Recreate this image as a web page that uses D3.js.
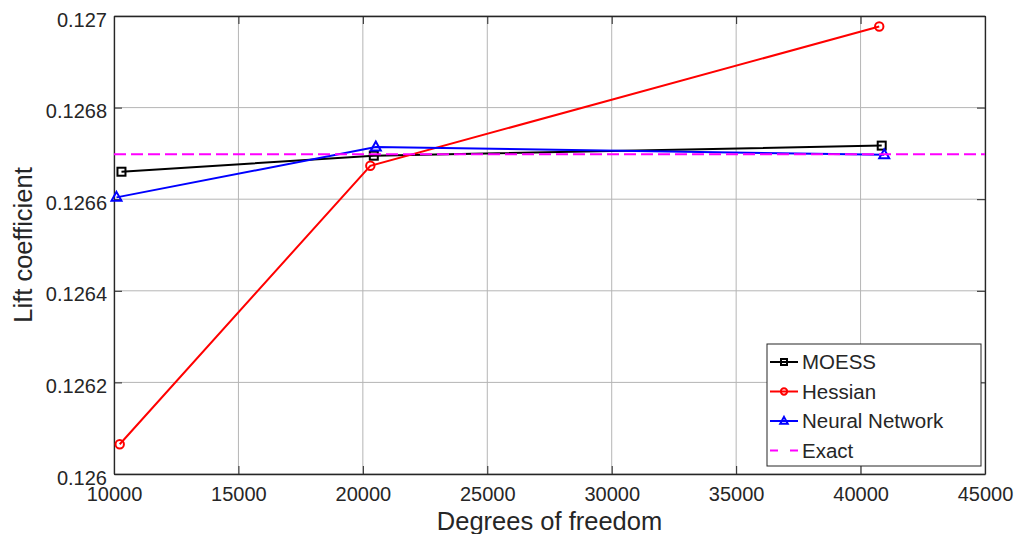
<!DOCTYPE html>
<html>
<head>
<meta charset="utf-8">
<script src="https://cdn.jsdelivr.net/npm/d3@7"></script>
<style>
  body { margin: 0; background: #fff; }
  svg text { font-family: "Liberation Sans", Arial, sans-serif; fill: #262626; }
</style>
</head>
<body>
<script>
// values
var dofMoess = [10300, 20440, 40850];
var liftMoess = [0.126660, 0.126695, 0.126717];
var dofHessian = [10230, 20300, 40750];
var liftHessian = [0.126065, 0.126673, 0.126977];
var dofNeural = [10100, 20520, 40950];
var liftNeural = [0.126604, 0.126714, 0.126697];
var liftExact = 0.126698;

var xTicks = [10000, 15000, 20000, 25000, 30000, 35000, 40000, 45000];
var yTicks = [0.126, 0.1262, 0.1264, 0.1266, 0.1268, 0.127];
var seriesNames = ["MOESS", "Hessian", "Neural Network", "Exact"];

var w = 1015, h = 534;
var margin = {left: 114, right: 30, top: 16, bottom: 60};

var svg = d3.select("body").append("svg")
    .attr("width", w)
    .attr("height", h);

var x = d3.scaleLinear().domain([10000, 45000]).range([margin.left, w - margin.right]);
var y = d3.scaleLinear().domain([0.126, 0.127]).range([h - margin.bottom, margin.top]);

// grid
svg.append("g").selectAll("line.vg")
    .data(xTicks)
    .enter().append("line")
    .attr("x1", function(d) { return x(d); })
    .attr("x2", function(d) { return x(d); })
    .attr("y1", y(0.126)).attr("y2", y(0.127))
    .attr("stroke", "#b5b5b5").attr("stroke-width", 1);
svg.append("g").selectAll("line.hg")
    .data(yTicks)
    .enter().append("line")
    .attr("y1", function(d) { return y(d); })
    .attr("y2", function(d) { return y(d); })
    .attr("x1", x(10000)).attr("x2", x(45000))
    .attr("stroke", "#b5b5b5").attr("stroke-width", 1);

// axes (box with inward ticks)
var xAxis = d3.axisBottom(x).tickValues(xTicks).tickSizeInner(-8).tickSizeOuter(0).tickPadding(13).tickFormat(d3.format("d"));
var yAxis = d3.axisLeft(y).tickValues(yTicks).tickSizeInner(-8).tickSizeOuter(0).tickPadding(7).tickFormat(function(d) { return +d.toFixed(4); });
var gx = svg.append("g").attr("transform", "translate(0," + y(0.126) + ")").call(xAxis);
var gy = svg.append("g").attr("transform", "translate(" + x(10000) + ",0)").call(yAxis);
svg.append("g").attr("transform", "translate(0," + y(0.127) + ")")
    .call(d3.axisTop(x).tickValues(xTicks).tickSizeInner(-8).tickSizeOuter(0).tickFormat(""));
svg.append("g").attr("transform", "translate(" + x(45000) + ",0)")
    .call(d3.axisRight(y).tickValues(yTicks).tickSizeInner(-8).tickSizeOuter(0).tickFormat(""));
svg.selectAll(".domain").attr("stroke", "#262626").attr("stroke-width", 1.3);
svg.selectAll(".tick line").attr("stroke", "#262626");
svg.selectAll(".tick text").attr("font-size", "20px").attr("fill", "#262626");
gy.selectAll(".tick text").attr("dy", "0.5em");

// axis titles
svg.append("text")
    .attr("x", (x(10000) + x(45000)) / 2)
    .attr("y", 530)
    .attr("text-anchor", "middle")
    .attr("font-size", "25.5px")
    .text("Degrees of freedom");
svg.append("text")
    .attr("transform", "translate(32," + (y(0.126) + y(0.127)) / 2 + ") rotate(-90)")
    .attr("text-anchor", "middle")
    .attr("font-size", "25.5px")
    .text("Lift coefficient");

var line = d3.line()
    .x(function(d) { return x(d[0]); })
    .y(function(d) { return y(d[1]); });

var series = [
    {name: "MOESS", color: "#000000", marker: "square", xs: dofMoess, ys: liftMoess},
    {name: "Hessian", color: "#ff0000", marker: "circle", xs: dofHessian, ys: liftHessian},
    {name: "Neural Network", color: "#0000ff", marker: "triangle", xs: dofNeural, ys: liftNeural}
];

function drawMarker(g, type, color, cx, cy, s) {
    if (type === "square") {
        g.append("rect").attr("x", cx - 4 * s).attr("y", cy - 4 * s).attr("width", 8 * s).attr("height", 8 * s)
            .attr("fill", "none").attr("stroke", color).attr("stroke-width", 2);
    } else if (type === "circle") {
        g.append("circle").attr("cx", cx).attr("cy", cy).attr("r", 4.2 * s)
            .attr("fill", "none").attr("stroke", color).attr("stroke-width", 2);
    } else {
        g.append("path")
            .attr("d", "M" + cx + "," + (cy - 5.5 * s) + "L" + (cx + 5 * s) + "," + (cy + 3.5 * s) + "L" + (cx - 5 * s) + "," + (cy + 3.5 * s) + "Z")
            .attr("fill", "none").attr("stroke", color).attr("stroke-width", 2);
    }
}

series.forEach(function(s) {
    var pts = s.xs.map(function(v, i) { return [v, s.ys[i]]; });
    var g = svg.append("g");
    g.append("path")
        .datum(pts)
        .attr("d", line)
        .attr("fill", "none")
        .attr("stroke", s.color)
        .attr("stroke-width", 2);
    pts.forEach(function(p) {
        drawMarker(g, s.marker, s.color, x(p[0]), y(p[1]), 1);
    });
});

// exact reference line (drawn last, on top)
svg.append("path")
    .datum([[10000, liftExact], [45000, liftExact]])
    .attr("d", line)
    .attr("fill", "none")
    .attr("stroke", "#ff00ff")
    .attr("stroke-width", 2)
    .attr("stroke-dasharray", "12,5");

// legend
var lg = svg.append("g").attr("transform", "translate(767,344)");
lg.append("rect").attr("width", 214).attr("height", 122)
    .attr("fill", "#fff").attr("stroke", "#262626").attr("stroke-width", 1);
var legendColors = ["#000000", "#ff0000", "#0000ff", "#ff00ff"];
var legendMarkers = ["square", "circle", "triangle", null];
seriesNames.forEach(function(name, i) {
    var ly = 18 + i * 29.5;
    var item = lg.append("g");
    item.append("line")
        .attr("x1", 3).attr("x2", 31).attr("y1", ly).attr("y2", ly)
        .attr("stroke", legendColors[i]).attr("stroke-width", 2)
        .attr("stroke-dasharray", legendMarkers[i] ? null : "8,12");
    if (legendMarkers[i]) {
        drawMarker(item, legendMarkers[i], legendColors[i], 17, ly, 0.75);
    }
    item.append("text")
        .attr("x", 35).attr("y", ly)
        .attr("dy", "0.36em")
        .attr("font-size", "20.5px")
        .attr("fill", "#000")
        .text(name);
});
</script>
</body>
</html>
